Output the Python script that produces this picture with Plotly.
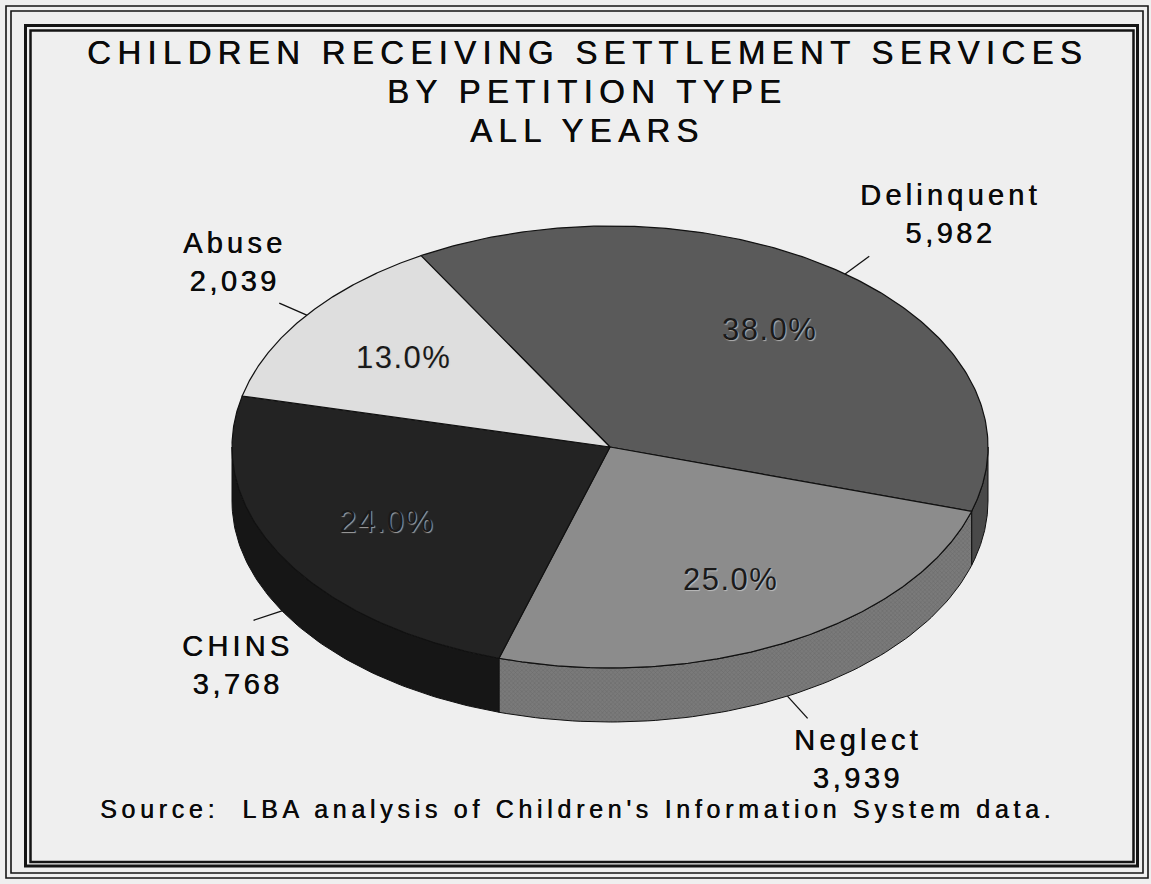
import numpy as np
import plotly.graph_objects as go

# ---- data -------------------------------------------------------------
categories = ["Delinquent", "Neglect", "CHINS", "Abuse"]
counts = [5982, 3939, 3768, 2039]

title_lines = [
    "CHILDREN RECEIVING SETTLEMENT SERVICES",
    "BY PETITION TYPE",
    "ALL YEARS",
]
source_note = "Source:  LBA analysis of Children's Information System data."

# ---- styling ------------------------------------------------------------
top_colors = ["#5a5a5a", "#8c8c8c", "#232323", "#dedede"]
side_colors = ["#494949", "#747474", "#161616", "#bdbdbd"]
side_patterns = [None, dict(shape="x", bgcolor="#7a7a7a", fgcolor="#5c5c5c", size=3, solidity=0.35), None, None]
# pixel offsets of each category label from the end of its leader line
label_offsets = {"Delinquent": (81, -42), "Neglect": (50, 41), "CHINS": (-16, 45), "Abuse": (-45, -41)}

W, H = 1151, 884
CX, CY = 610, 447        # centre of the pie's top face
RX, RY = 378, 221        # radii of the tilted (elliptical) top face
DEPTH = 54               # thickness of the pie
START = 120              # angle of the first slice edge; slices run clockwise
LEADER = 30              # leader line length
FONT = "Liberation Sans, Arial, sans-serif"
INK = "#0a0a0a"
THICKEN = "0.5px 0 0 #0a0a0a"
BG = "#efefef"


def spaced(text, px):
    return f"<span style='letter-spacing:{px}px'>{text}</span>"


def rim(theta_deg, drop=0.0):
    t = np.radians(theta_deg)
    return CX + RX * np.cos(t), CY - RY * np.sin(t) + drop


total = float(sum(counts))
shares = np.array(counts) / total
edges = START - 360.0 * np.concatenate([[0.0], np.cumsum(shares)])

fig = go.Figure()

# ---- side walls (front half of the rim only) ------------------------------
for i, name in enumerate(categories):
    lo, hi = edges[i + 1], edges[i]
    for k in range(-2, 2):
        a, b = max(lo, -180 + 360 * k), min(hi, 360 * k)
        if b <= a:
            continue
        th = np.linspace(a, b, 80)
        xt, yt = rim(th)
        xb, yb = rim(th[::-1], DEPTH)
        xs = np.concatenate([xt, xb, xt[:1]])
        ys = np.concatenate([yt, yb, yt[:1]])
        kw = dict(fillcolor=side_colors[i])
        if side_patterns[i]:
            kw["fillpattern"] = side_patterns[i]
        fig.add_trace(go.Scatter(
            x=xs, y=ys, mode="lines", fill="toself",
            line=dict(color="#111111", width=1), hoverinfo="skip", showlegend=False, **kw))

# ---- top faces ------------------------------------------------------------
for i, name in enumerate(categories):
    lo, hi = edges[i + 1], edges[i]
    th = np.linspace(hi, lo, 200)
    xa, ya = rim(th)
    xs = np.concatenate([[CX], xa, [CX]])
    ys = np.concatenate([[CY], ya, [CY]])
    fig.add_trace(go.Scatter(
        x=xs, y=ys, mode="lines", fill="toself", fillcolor=top_colors[i],
        line=dict(color="#111111", width=1.2), name=name,
        hovertemplate=f"{name}: {counts[i]:,}<extra></extra>", showlegend=False))

annotations = []

# ---- percentage labels on the slices ---------------------------------------
for i, name in enumerate(categories):
    mid = (edges[i] + edges[i + 1]) / 2
    t = np.radians(mid)
    px_, py_ = CX + 0.68 * RX * np.cos(t), CY - 0.68 * RY * np.sin(t)
    annotations.append(dict(
        x=px_, y=py_, xref="x", yref="y", showarrow=False,
        text=spaced(f"{shares[i] * 100:.1f}%", 1.5),
        font=dict(family=FONT, size=31, color="#1a1a1a",
                  shadow="1px 1px 1px rgba(205,205,205,0.75)"),
        xanchor="center", yanchor="middle"))

# ---- leader lines and category labels -----------------------------------
for i, name in enumerate(categories):
    mid = (edges[i] + edges[i + 1]) / 2
    t = np.radians(mid)
    drop = DEPTH if np.sin(t) < 0 else 0.0
    x0, y0 = rim(mid, drop)
    dx, dy = RX * np.cos(t), -RY * np.sin(t)
    n = np.hypot(dx, dy)
    x1, y1 = x0 + LEADER * dx / n, y0 + LEADER * dy / n
    fig.add_trace(go.Scatter(
        x=[x0, x1], y=[y0, y1], mode="lines",
        line=dict(color="#111111", width=1.3), hoverinfo="skip", showlegend=False))
    ox, oy = label_offsets[name]
    annotations.append(dict(
        x=x1 + ox, y=y1 + oy, xref="x", yref="y", showarrow=False,
        text=spaced(name, 4.2) + "<br>" + spaced(f"{counts[i]:,}", 3.5),
        align="center", xanchor="center", yanchor="middle",
        font=dict(family=FONT, size=29, color=INK, shadow=THICKEN)))

# ---- title and source -------------------------------------------------------
for j, line in enumerate(title_lines):
    annotations.append(dict(
        x=587, y=52 + 39 * j, xref="x", yref="y", showarrow=False,
        text=spaced(line, 6.3), xanchor="center", yanchor="middle",
        font=dict(family=FONT, size=33, color=INK, shadow=THICKEN)))

annotations.append(dict(
    x=577, y=809, xref="x", yref="y", showarrow=False,
    text=spaced(source_note, 4.7), xanchor="center", yanchor="middle",
    font=dict(family=FONT, size=25, color=INK, shadow=THICKEN)))

# ---- frame -------------------------------------------------------------------
shapes = []
for (x0, y0, x1, y1, w) in [
    (6, 6, 1148, 878, 1.6),
    (11, 11, 1143, 873, 1.6),
    (25.5, 25.5, 1137.5, 866, 3),
    (30.5, 30.5, 1133.5, 862, 2.5),
]:
    shapes.append(dict(type="rect", xref="x", yref="y", x0=x0, y0=y0, x1=x1, y1=y1,
                       line=dict(color="#151515", width=w), layer="below"))

fig.update_layout(
    width=W, height=H, autosize=False,
    margin=dict(l=0, r=0, t=0, b=0),
    paper_bgcolor=BG, plot_bgcolor=BG,
    xaxis=dict(range=[0, W], visible=False, fixedrange=True),
    yaxis=dict(range=[H, 0], visible=False, fixedrange=True),
    annotations=annotations, shapes=shapes,
    hovermode="closest",
)

fig.write_html("out.html", post_script="document.body.style.margin='0';")
